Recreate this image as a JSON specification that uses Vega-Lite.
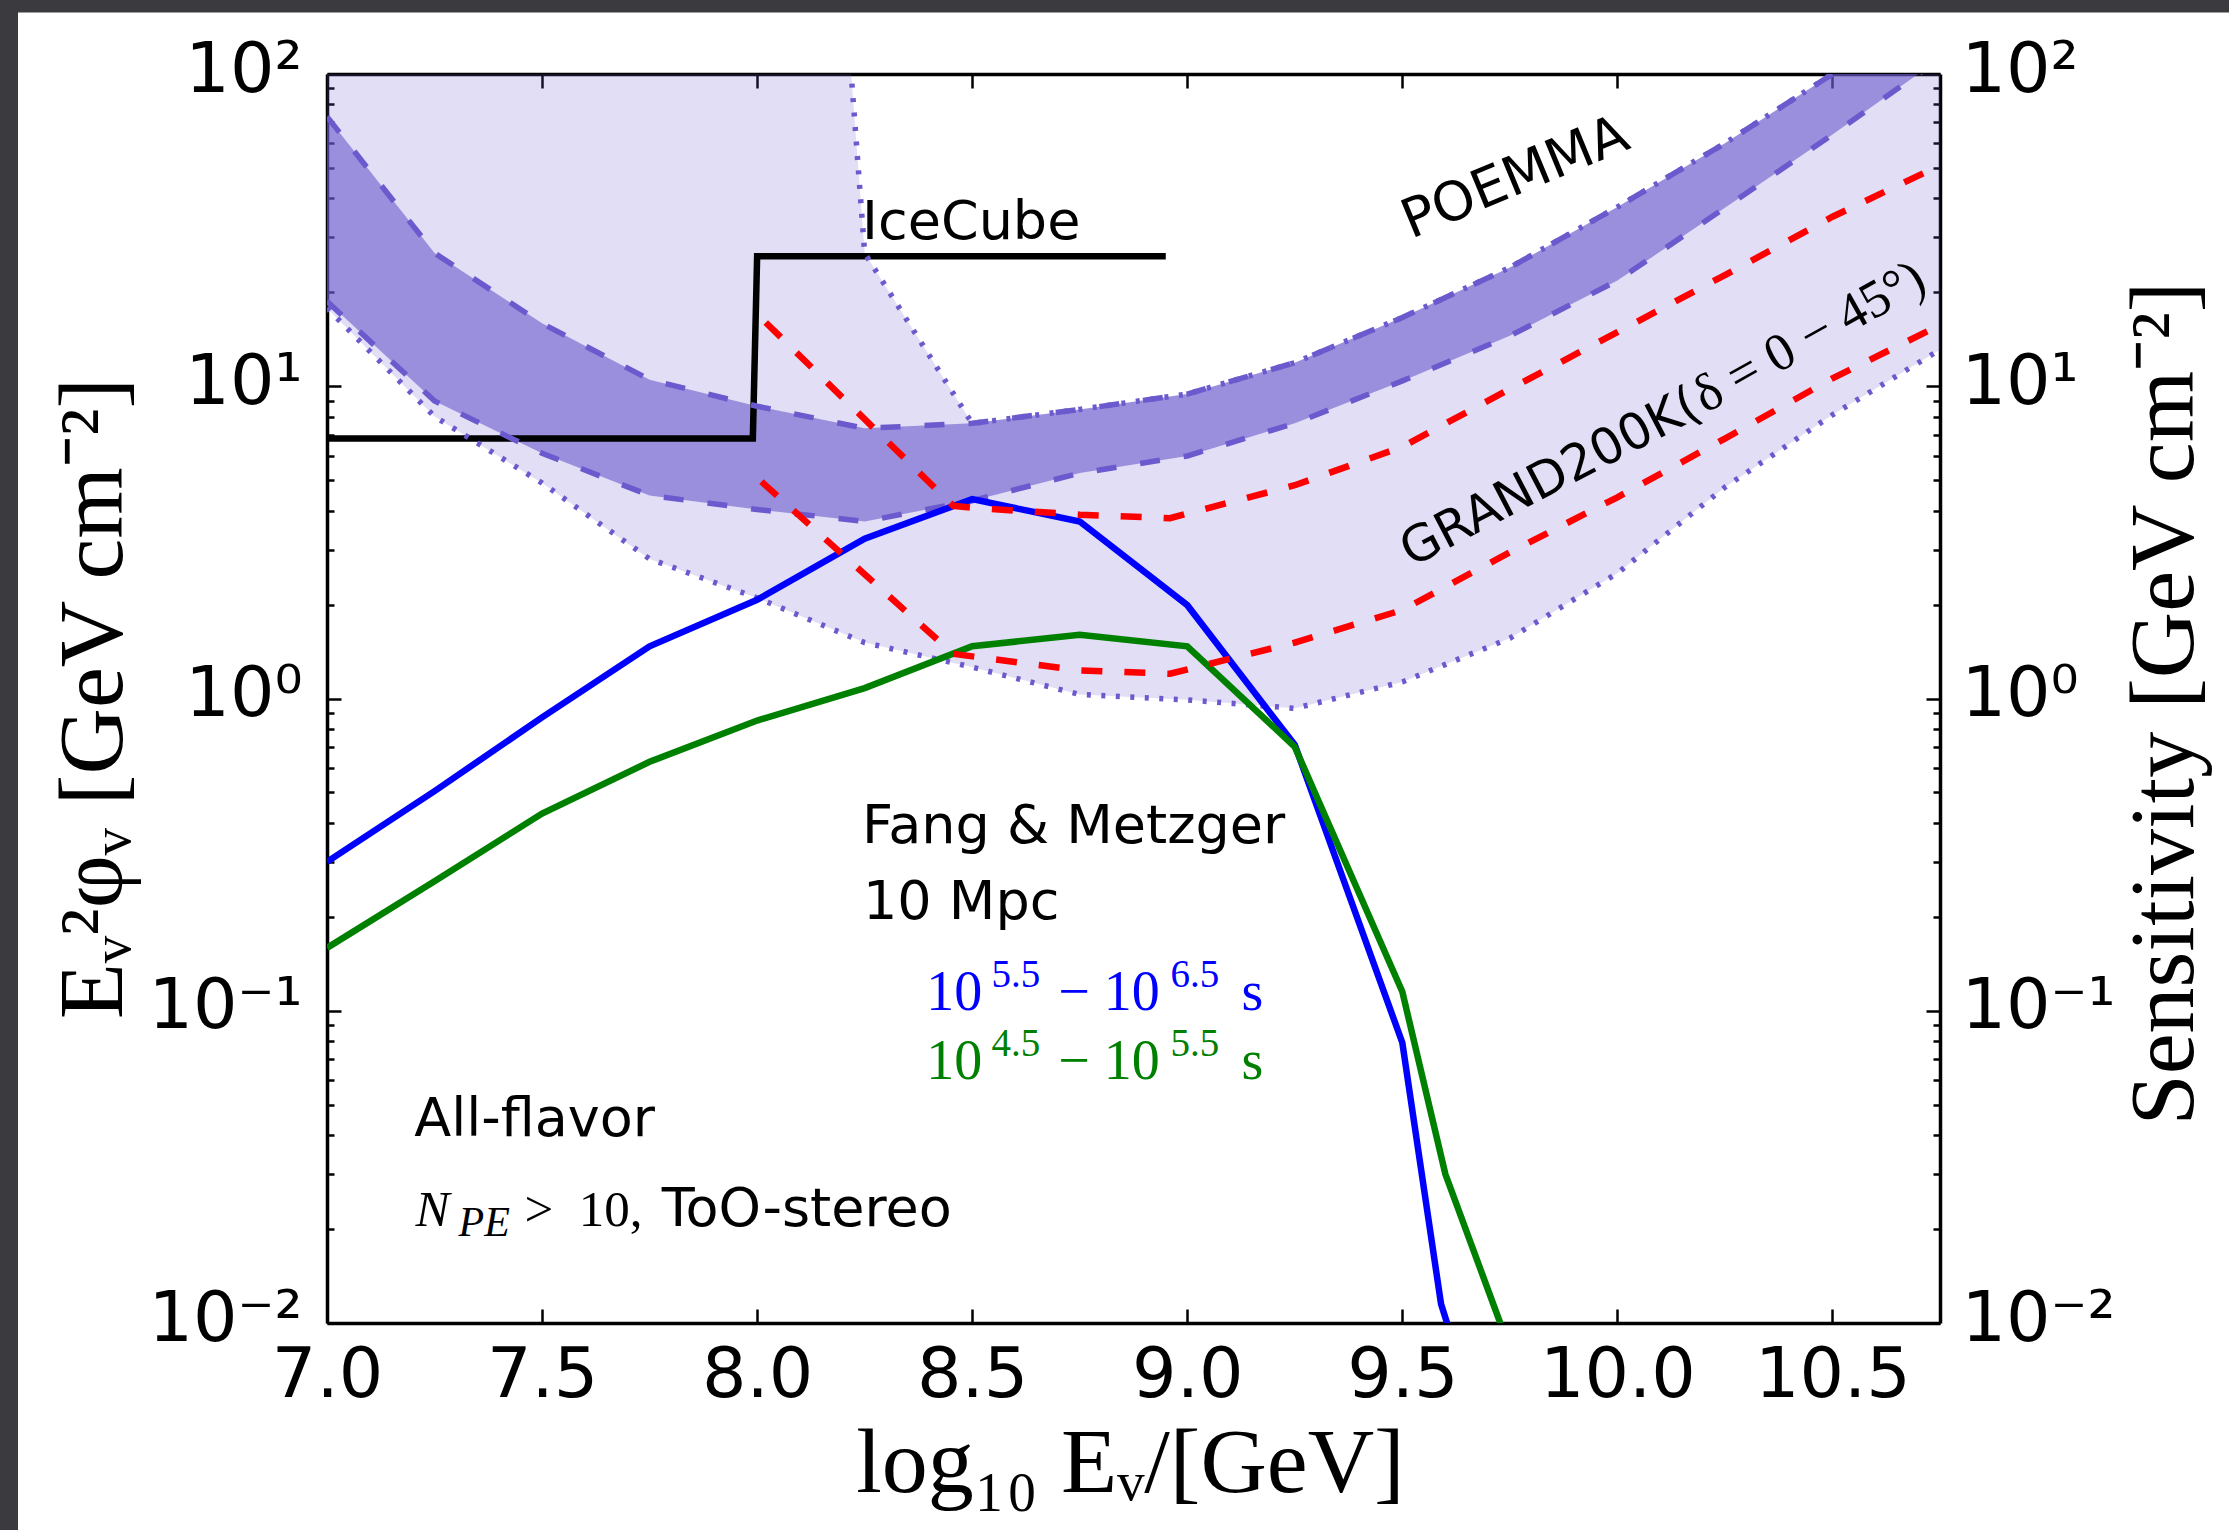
{
  "$schema": "https://vega.github.io/schema/vega-lite/v6.json",
  "width": 1613,
  "height": 1249,
  "autosize": {"type": "none"},
  "padding": {"left": 327, "top": 74, "right": 289, "bottom": 207},
  "background": "#3b3b3f",
  "config": {
    "view": {"fill": "#ffffff", "stroke": "#ffffff", "strokeWidth": 618},
    "axis": {
      "grid": false, "zindex": 1, "domainColor": "#000000", "tickColor": "#000000",
      "labelColor": "#000000", "titleColor": "#000000", "labelFont": "DejaVu Sans",
      "labelFontSize": 70, "titleFontWeight": "normal", "domainWidth": 3.5, "tickWidth": 2.5,
      "labelFlush": false, "labelOverlap": false
    }
  },
  "datasets": {
    "wide": [
      {"x": 7.0, "lo": 17.8, "hi": 10000},
      {"x": 7.25, "lo": 8.0, "hi": 10000},
      {"x": 7.5, "lo": 4.9, "hi": 10000},
      {"x": 7.75, "lo": 2.8, "hi": 10000},
      {"x": 8.0, "lo": 2.1, "hi": 1000000},
      {"x": 8.25, "lo": 1.51, "hi": 26.7},
      {"x": 8.5, "lo": 1.26, "hi": 7.6},
      {"x": 8.75, "lo": 1.03, "hi": 8.43},
      {"x": 9.0, "lo": 0.99, "hi": 9.44},
      {"x": 9.25, "lo": 0.93, "hi": 11.9},
      {"x": 9.5, "lo": 1.13, "hi": 16.6},
      {"x": 9.75, "lo": 1.56, "hi": 24},
      {"x": 10.0, "lo": 2.52, "hi": 37.5},
      {"x": 10.25, "lo": 4.75, "hi": 60},
      {"x": 10.5, "lo": 8.1, "hi": 100},
      {"x": 10.75, "lo": 13.1, "hi": 165}
    ],
    "poemma": [
      {"x": 7.0, "lo": 18.7, "hi": 73},
      {"x": 7.25, "lo": 8.97, "hi": 26.7},
      {"x": 7.5, "lo": 6.1, "hi": 15.9},
      {"x": 7.75, "lo": 4.47, "hi": 10.5},
      {"x": 8.0, "lo": 4.03, "hi": 8.63},
      {"x": 8.25, "lo": 3.69, "hi": 7.33},
      {"x": 8.5, "lo": 4.3, "hi": 7.61},
      {"x": 8.75, "lo": 5.27, "hi": 8.43},
      {"x": 9.0, "lo": 5.98, "hi": 9.44},
      {"x": 9.25, "lo": 7.61, "hi": 11.9},
      {"x": 9.5, "lo": 10.4, "hi": 16.6},
      {"x": 9.75, "lo": 14.5, "hi": 24},
      {"x": 10.0, "lo": 21.8, "hi": 37.5},
      {"x": 10.25, "lo": 37.3, "hi": 60},
      {"x": 10.5, "lo": 64, "hi": 100},
      {"x": 10.75, "lo": 112, "hi": 165}
    ],
    "curves": [
      {"s": "ice", "x": 7.0, "y": 6.8},
      {"s": "ice", "x": 7.99, "y": 6.8},
      {"s": "ice", "x": 8.0, "y": 26.1},
      {"s": "ice", "x": 8.95, "y": 26.1},
      {"s": "blue", "x": 7.0, "y": 0.30},
      {"s": "blue", "x": 7.25, "y": 0.505},
      {"s": "blue", "x": 7.5, "y": 0.87},
      {"s": "blue", "x": 7.75, "y": 1.47},
      {"s": "blue", "x": 8.0, "y": 2.07},
      {"s": "blue", "x": 8.25, "y": 3.25},
      {"s": "blue", "x": 8.5, "y": 4.35},
      {"s": "blue", "x": 8.75, "y": 3.69},
      {"s": "blue", "x": 9.0, "y": 1.99},
      {"s": "blue", "x": 9.25, "y": 0.71},
      {"s": "blue", "x": 9.5, "y": 0.079},
      {"s": "blue", "x": 9.59, "y": 0.0115},
      {"s": "blue", "x": 9.606, "y": 0.0098},
      {"s": "green", "x": 7.0, "y": 0.159},
      {"s": "green", "x": 7.25, "y": 0.26},
      {"s": "green", "x": 7.5, "y": 0.428},
      {"s": "green", "x": 7.75, "y": 0.627},
      {"s": "green", "x": 8.0, "y": 0.85},
      {"s": "green", "x": 8.25, "y": 1.08},
      {"s": "green", "x": 8.5, "y": 1.47},
      {"s": "green", "x": 8.75, "y": 1.60},
      {"s": "green", "x": 9.0, "y": 1.47},
      {"s": "green", "x": 9.25, "y": 0.70},
      {"s": "green", "x": 9.5, "y": 0.115},
      {"s": "green", "x": 9.6, "y": 0.030},
      {"s": "green", "x": 9.73, "y": 0.0098},
      {"s": "redU", "x": 8.02, "y": 16.0},
      {"s": "redU", "x": 8.456, "y": 4.14},
      {"s": "redU", "x": 8.5, "y": 4.08},
      {"s": "redU", "x": 8.75, "y": 3.88},
      {"s": "redU", "x": 8.96, "y": 3.78},
      {"s": "redU", "x": 9.25, "y": 4.82},
      {"s": "redU", "x": 9.5, "y": 6.4},
      {"s": "redU", "x": 9.75, "y": 9.8},
      {"s": "redU", "x": 10.0, "y": 14.9},
      {"s": "redU", "x": 10.25, "y": 22.7},
      {"s": "redU", "x": 10.5, "y": 34.9},
      {"s": "redU", "x": 10.75, "y": 51},
      {"s": "redL", "x": 8.01, "y": 4.95},
      {"s": "redL", "x": 8.456, "y": 1.39},
      {"s": "redL", "x": 8.75, "y": 1.23},
      {"s": "redL", "x": 8.96, "y": 1.2},
      {"s": "redL", "x": 9.25, "y": 1.51},
      {"s": "redL", "x": 9.5, "y": 1.92},
      {"s": "redL", "x": 9.75, "y": 2.94},
      {"s": "redL", "x": 10.0, "y": 4.41},
      {"s": "redL", "x": 10.25, "y": 6.8},
      {"s": "redL", "x": 10.5, "y": 10.6},
      {"s": "redL", "x": 10.75, "y": 15.7}
    ]
  },
  "resolve": {"axis": {"x": "independent", "y": "independent"}},
  "layer": [
    {
      "data": {"name": "wide"},
      "mark": {"type": "area", "color": "#6a5acd", "opacity": 0.2, "clip": true},
      "encoding": {
        "x": {"field": "x", "type": "quantitative", "scale": {"domain": [7, 10.75], "nice": false, "zero": false},
          "axis": {"orient": "bottom", "values": [7, 7.5, 8, 8.5, 9, 9.5, 10, 10.5], "format": ".1f", "tickSize": -14, "labelPadding": 32,
            "title": "log₁₀ Eᵥ/[GeV]", "titleFont": "Liberation Serif", "titleFontSize": 92, "titleX": 803, "titleY": 168,
            "titleAlign": "center", "titleBaseline": "alphabetic", "titleAngle": 0}},
        "y": {"field": "lo", "type": "quantitative", "scale": {"type": "log", "domain": [0.01, 100], "nice": false},
          "axis": {"orient": "left", "values": [0.01, 0.1, 1, 10, 100], "tickSize": -14, "labelPadding": 39, "labelBaseline": "middle", "labelOffset": -4,
            "labelExpr": "datum.value >= 99 ? '10²' : datum.value >= 9 ? '10¹' : datum.value >= 0.9 ? '10⁰' : datum.value >= 0.09 ? '10⁻¹' : '10⁻²'",
            "title": "Eᵥ²φᵥ [GeV cm⁻²]", "titleFont": "Liberation Serif", "titleFontSize": 92, "titleAngle": 270,
            "titleX": -206, "titleY": 624, "titleAlign": "center", "titleBaseline": "alphabetic"}},
        "y2": {"field": "hi"}
      }
    },
    {
      "data": {"name": "poemma"},
      "mark": {"type": "area", "color": "#6a5acd", "opacity": 0.6, "clip": true},
      "encoding": {
        "x": {"field": "x", "type": "quantitative", "scale": {"domain": [7, 10.75], "nice": false, "zero": false},
          "axis": {"orient": "top", "values": [7, 7.5, 8, 8.5, 9, 9.5, 10, 10.5], "tickSize": -14, "labels": false, "title": null}},
        "y": {"field": "lo", "type": "quantitative", "scale": {"type": "log", "domain": [0.01, 100], "nice": false},
          "axis": {"orient": "left", "values": [0.02, 0.03, 0.04, 0.05, 0.06, 0.07, 0.08, 0.09, 0.2, 0.3, 0.4, 0.5, 0.6, 0.7, 0.8, 0.9, 2, 3, 4, 5, 6, 7, 8, 9, 20, 30, 40, 50, 60, 70, 80, 90],
            "tickSize": -7, "labels": false, "domain": false, "title": null}},
        "y2": {"field": "hi"}
      }
    },
    {
      "data": {"name": "curves"},
      "transform": [{"filter": "datum.s == 'ice'"}],
      "mark": {"type": "line", "color": "#000000", "strokeWidth": 6.5, "clip": true},
      "encoding": {
        "x": {"field": "x", "type": "quantitative", "scale": {"domain": [7, 10.75], "nice": false, "zero": false}, "axis": null},
        "y": {"field": "y", "type": "quantitative", "scale": {"type": "log", "domain": [0.01, 100], "nice": false},
          "axis": {"orient": "right", "values": [0.01, 0.1, 1, 10, 100], "tickSize": -14, "labelPadding": 35, "labelBaseline": "middle", "labelOffset": -4,
            "labelExpr": "datum.value >= 99 ? '10²' : datum.value >= 9 ? '10¹' : datum.value >= 0.9 ? '10⁰' : datum.value >= 0.09 ? '10⁻¹' : '10⁻²'",
            "title": "Sensitivity [GeV cm⁻²]", "titleFont": "Liberation Serif", "titleFontSize": 92, "titleAngle": 270,
            "titleX": 252, "titleY": 629, "titleAlign": "center", "titleBaseline": "alphabetic"}}
      }
    },
    {
      "data": {"name": "wide"},
      "mark": {"type": "line", "color": "#6a5acd", "strokeWidth": 5.5, "strokeDash": [4, 10.5], "clip": true},
      "encoding": {
        "x": {"field": "x", "type": "quantitative", "scale": {"domain": [7, 10.75], "nice": false, "zero": false}, "axis": null},
        "y": {"field": "lo", "type": "quantitative", "scale": {"type": "log", "domain": [0.01, 100], "nice": false},
          "axis": {"orient": "right", "values": [0.02, 0.03, 0.04, 0.05, 0.06, 0.07, 0.08, 0.09, 0.2, 0.3, 0.4, 0.5, 0.6, 0.7, 0.8, 0.9, 2, 3, 4, 5, 6, 7, 8, 9, 20, 30, 40, 50, 60, 70, 80, 90],
            "tickSize": -7, "labels": false, "domain": false, "title": null}}
      }
    },
    {
      "data": {"name": "wide"},
      "mark": {"type": "line", "color": "#6a5acd", "strokeWidth": 5.5, "strokeDash": [4, 10.5], "clip": true},
      "encoding": {
        "x": {"field": "x", "type": "quantitative", "scale": {"domain": [7, 10.75], "nice": false, "zero": false}, "axis": null},
        "y": {"field": "hi", "type": "quantitative", "scale": {"type": "log", "domain": [0.01, 100], "nice": false},
          "axis": {"orient": "left", "offset": 327, "values": [100], "tickSize": -2300, "tickWidth": 24, "tickOffset": -74,
            "tickColor": "#3b3b3f", "labels": false, "domain": false, "title": null}}
      }
    },
    {
      "data": {"name": "poemma"},
      "mark": {"type": "line", "color": "#6a5acd", "strokeWidth": 5.5, "strokeDash": [20, 24], "clip": true},
      "encoding": {
        "x": {"field": "x", "type": "quantitative", "scale": {"domain": [7, 10.75], "nice": false, "zero": false}, "axis": null},
        "y": {"field": "lo", "type": "quantitative", "scale": {"type": "log", "domain": [0.01, 100], "nice": false}, "axis": null}
      }
    },
    {
      "data": {"name": "poemma"},
      "mark": {"type": "line", "color": "#6a5acd", "strokeWidth": 5.5, "strokeDash": [20, 24], "clip": true},
      "encoding": {
        "x": {"field": "x", "type": "quantitative", "scale": {"domain": [7, 10.75], "nice": false, "zero": false}, "axis": null},
        "y": {"field": "hi", "type": "quantitative", "scale": {"type": "log", "domain": [0.01, 100], "nice": false}, "axis": null}
      }
    },
    {
      "data": {"name": "curves"},
      "transform": [{"filter": "datum.s == 'blue'"}],
      "mark": {"type": "line", "color": "#0000ff", "strokeWidth": 6.5, "clip": true},
      "encoding": {
        "x": {"field": "x", "type": "quantitative", "scale": {"domain": [7, 10.75], "nice": false, "zero": false}, "axis": null},
        "y": {"field": "y", "type": "quantitative", "scale": {"type": "log", "domain": [0.01, 100], "nice": false}, "axis": null}
      }
    },
    {
      "data": {"name": "curves"},
      "transform": [{"filter": "datum.s == 'green'"}],
      "mark": {"type": "line", "color": "#008000", "strokeWidth": 6.5, "clip": true},
      "encoding": {
        "x": {"field": "x", "type": "quantitative", "scale": {"domain": [7, 10.75], "nice": false, "zero": false}, "axis": null},
        "y": {"field": "y", "type": "quantitative", "scale": {"type": "log", "domain": [0.01, 100], "nice": false}, "axis": null}
      }
    },
    {
      "data": {"name": "curves"},
      "transform": [{"filter": "datum.s == 'redU' || datum.s == 'redL'"}],
      "mark": {"type": "line", "color": "#ff0000", "strokeWidth": 6.5, "strokeDash": [21, 22], "clip": true},
      "encoding": {
        "x": {"field": "x", "type": "quantitative", "scale": {"domain": [7, 10.75], "nice": false, "zero": false}, "axis": null},
        "y": {"field": "y", "type": "quantitative", "scale": {"type": "log", "domain": [0.01, 100], "nice": false}, "axis": null},
        "detail": {"field": "s"}
      }
    },
    {
      "data": {"values": [
        {"x": 8.244, "y": 29.6, "t": "IceCube"},
        {"x": 8.244, "y": 0.345, "t": "Fang & Metzger"},
        {"x": 8.246, "y": 0.1974, "t": "10 Mpc"},
        {"x": 7.203, "y": 0.0398, "t": "All-flavor"},
        {"x": 7.778, "y": 0.0205, "t": "ToO-stereo"}
      ]},
      "mark": {"type": "text", "font": "DejaVu Sans", "fontSize": 54, "align": "left", "baseline": "alphabetic", "color": "#000000"},
      "encoding": {
        "x": {"field": "x", "type": "quantitative", "scale": {"domain": [7, 10.75], "nice": false, "zero": false}, "axis": null},
        "y": {"field": "y", "type": "quantitative", "scale": {"type": "log", "domain": [0.01, 100], "nice": false}, "axis": null},
        "text": {"field": "t"}
      }
    },
    {
      "data": {"values": [{"x": 7.206, "y": 0.0205, "t": "N"}]},
      "mark": {"type": "text", "font": "Liberation Serif", "fontStyle": "italic", "fontSize": 51, "align": "left", "baseline": "alphabetic", "color": "#000000"},
      "encoding": {
        "x": {"field": "x", "type": "quantitative", "scale": {"domain": [7, 10.75], "nice": false, "zero": false}, "axis": null},
        "y": {"field": "y", "type": "quantitative", "scale": {"type": "log", "domain": [0.01, 100], "nice": false}, "axis": null},
        "text": {"field": "t"}
      }
    },
    {
      "data": {"values": [{"x": 7.306, "y": 0.01904, "t": "PE"}]},
      "mark": {"type": "text", "font": "Liberation Serif", "fontStyle": "italic", "fontSize": 42, "align": "left", "baseline": "alphabetic", "color": "#000000"},
      "encoding": {
        "x": {"field": "x", "type": "quantitative", "scale": {"domain": [7, 10.75], "nice": false, "zero": false}, "axis": null},
        "y": {"field": "y", "type": "quantitative", "scale": {"type": "log", "domain": [0.01, 100], "nice": false}, "axis": null},
        "text": {"field": "t"}
      }
    },
    {
      "data": {"values": [{"x": 7.4593, "y": 0.0205, "t": ">\u200210,"}]},
      "mark": {"type": "text", "font": "Liberation Serif", "fontSize": 51, "align": "left", "baseline": "alphabetic", "color": "#000000"},
      "encoding": {
        "x": {"field": "x", "type": "quantitative", "scale": {"domain": [7, 10.75], "nice": false, "zero": false}, "axis": null},
        "y": {"field": "y", "type": "quantitative", "scale": {"type": "log", "domain": [0.01, 100], "nice": false}, "axis": null},
        "text": {"field": "t"}
      }
    },
    {
      "data": {"values": [
        {"x": 8.393, "y": 0.1007, "t": "10", "c": "blue"},
        {"x": 8.7, "y": 0.1007, "t": "− 10", "c": "blue"},
        {"x": 9.126, "y": 0.1007, "t": "s", "c": "blue"},
        {"x": 8.393, "y": 0.0606, "t": "10", "c": "green"},
        {"x": 8.7, "y": 0.0606, "t": "− 10", "c": "green"},
        {"x": 9.126, "y": 0.0606, "t": "s", "c": "green"}
      ]},
      "mark": {"type": "text", "font": "Liberation Serif", "fontSize": 56, "align": "left", "baseline": "alphabetic"},
      "encoding": {
        "x": {"field": "x", "type": "quantitative", "scale": {"domain": [7, 10.75], "nice": false, "zero": false}, "axis": null},
        "y": {"field": "y", "type": "quantitative", "scale": {"type": "log", "domain": [0.01, 100], "nice": false}, "axis": null},
        "text": {"field": "t"},
        "color": {"field": "c", "type": "nominal", "scale": {"domain": ["blue", "green"], "range": ["#0000ff", "#008000"]}, "legend": null}
      }
    },
    {
      "data": {"values": [
        {"x": 8.5449, "y": 0.1188, "t": "5.5", "c": "blue"},
        {"x": 8.961, "y": 0.1188, "t": "6.5", "c": "blue"},
        {"x": 8.5449, "y": 0.07145, "t": "4.5", "c": "green"},
        {"x": 8.961, "y": 0.07145, "t": "5.5", "c": "green"}
      ]},
      "mark": {"type": "text", "font": "Liberation Serif", "fontSize": 39, "align": "left", "baseline": "alphabetic"},
      "encoding": {
        "x": {"field": "x", "type": "quantitative", "scale": {"domain": [7, 10.75], "nice": false, "zero": false}, "axis": null},
        "y": {"field": "y", "type": "quantitative", "scale": {"type": "log", "domain": [0.01, 100], "nice": false}, "axis": null},
        "text": {"field": "t"},
        "color": {"field": "c", "type": "nominal", "scale": {"domain": ["blue", "green"], "range": ["#0000ff", "#008000"]}, "legend": null}
      }
    },
    {
      "data": {"values": [{"x": 9.52, "y": 29.6, "t": "POEMMA"}]},
      "mark": {"type": "text", "font": "DejaVu Sans", "fontSize": 54, "align": "left", "baseline": "alphabetic", "angle": 337.5, "color": "#000000"},
      "encoding": {
        "x": {"field": "x", "type": "quantitative", "scale": {"domain": [7, 10.75], "nice": false, "zero": false}, "axis": null},
        "y": {"field": "y", "type": "quantitative", "scale": {"type": "log", "domain": [0.01, 100], "nice": false}, "axis": null},
        "text": {"field": "t"}
      }
    },
    {
      "data": {"values": [{"x": 9.521, "y": 2.626, "t": "GRAND200K("}]},
      "mark": {"type": "text", "font": "DejaVu Sans", "fontSize": 50, "align": "left", "baseline": "alphabetic", "angle": 332.5, "color": "#000000"},
      "encoding": {
        "x": {"field": "x", "type": "quantitative", "scale": {"domain": [7, 10.75], "nice": false, "zero": false}, "axis": null},
        "y": {"field": "y", "type": "quantitative", "scale": {"type": "log", "domain": [0.01, 100], "nice": false}, "axis": null},
        "text": {"field": "t"}
      }
    },
    {
      "data": {"values": [{"x": 10.2047, "y": 8.17, "t": "δ = 0 − 45°)"}]},
      "mark": {"type": "text", "font": "Liberation Serif", "fontSize": 53, "align": "left", "baseline": "alphabetic", "angle": 330.8, "color": "#000000"},
      "encoding": {
        "x": {"field": "x", "type": "quantitative", "scale": {"domain": [7, 10.75], "nice": false, "zero": false}, "axis": null},
        "y": {"field": "y", "type": "quantitative", "scale": {"type": "log", "domain": [0.01, 100], "nice": false}, "axis": null},
        "text": {"field": "t"}
      }
    }
  ]
}
